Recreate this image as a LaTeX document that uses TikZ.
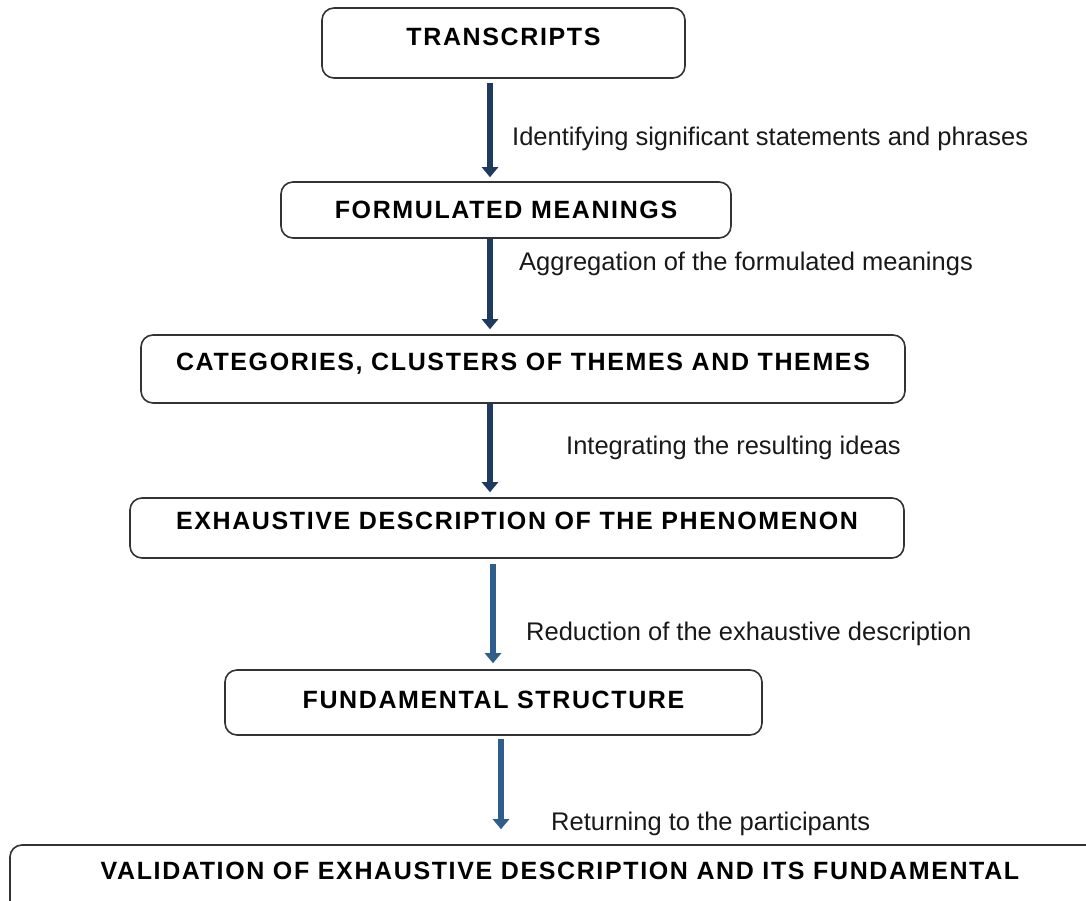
\documentclass[tikz,border=0pt]{standalone}
\usepackage{fontspec}
\setmainfont{Liberation Sans}
\usetikzlibrary{arrows.meta}

\definecolor{navy}{HTML}{1F3A5F}
\definecolor{steel}{HTML}{2F5D8C}

\tikzset{
	stepbox/.style={draw=black!80, line width=1.6pt, rounded corners=12pt, font=\fontsize{25}{29}\selectfont\bfseries\addfontfeatures{LetterSpace=6.5}, inner sep=0pt},
	lift/.style={text depth=#1},
	flow/.style={line width=6.5pt, -{Triangle[width=16pt, length=10pt]}},
	note/.style={anchor=west, inner sep=0pt, font=\fontsize{25.5}{29}\selectfont, text=black!90}
}

\begin{document}
\begin{tikzpicture}[x=1pt, y=-1pt]
		\useasboundingbox (0,0) rectangle (1086,901);
		\clip (0,0) rectangle (1086,901);
		\node[stepbox, lift=12pt, minimum width=363pt, minimum height=70pt] (transcripts) at (503.5, 43) {TRANSCRIPTS};
		\node[stepbox, minimum width=450pt, minimum height=56pt] (meanings) at (506, 210) {FORMULATED MEANINGS};
		\node[stepbox, lift=14pt, minimum width=764pt, minimum height=68pt] (categories) at (523, 369) {CATEGORIES, CLUSTERS OF THEMES AND THEMES};
		\node[stepbox, lift=14pt, minimum width=774pt, minimum height=60pt] (description) at (517, 528) {EXHAUSTIVE DESCRIPTION OF THE PHENOMENON};
		\node[stepbox, lift=6pt, minimum width=537pt, minimum height=65pt] (structure) at (493.5, 702.5) {FUNDAMENTAL STRUCTURE};
		\node[stepbox, lift=18pt, minimum width=1100pt, minimum height=70pt] (validation) at (560, 880) {VALIDATION OF EXHAUSTIVE DESCRIPTION AND ITS FUNDAMENTAL};
		
		\node[note] (l1) at (512, 139) {Identifying significant statements and phrases};
		\node[note] (l2) at (519, 264) {Aggregation of the formulated meanings};
		\node[note] (l3) at (566, 448) {Integrating the resulting ideas};
		\node[note] (l4) at (526, 634) {Reduction of the exhaustive description};
		\node[note] (l5) at (551, 824) {Returning to the participants};
		
		\draw[flow, navy] ([yshift=-4pt]transcripts.south -| 490,0) -- ([yshift=4pt]meanings.north -| 490,0);
		\draw[flow, navy] (meanings.south -| 490,0) -- ([yshift=5pt]categories.north -| 490,0);
		\draw[flow, navy] (categories.south -| 490,0) -- ([yshift=5pt]description.north -| 490,0);
		\draw[flow, steel] ([yshift=-5pt]description.south -| 493,0) -- ([yshift=6pt]structure.north -| 493,0);
		\draw[flow, steel] ([yshift=-3pt]structure.south -| 501,0) -- ([yshift=15pt]validation.north -| 501,0);
	\end{tikzpicture}
\end{document}
